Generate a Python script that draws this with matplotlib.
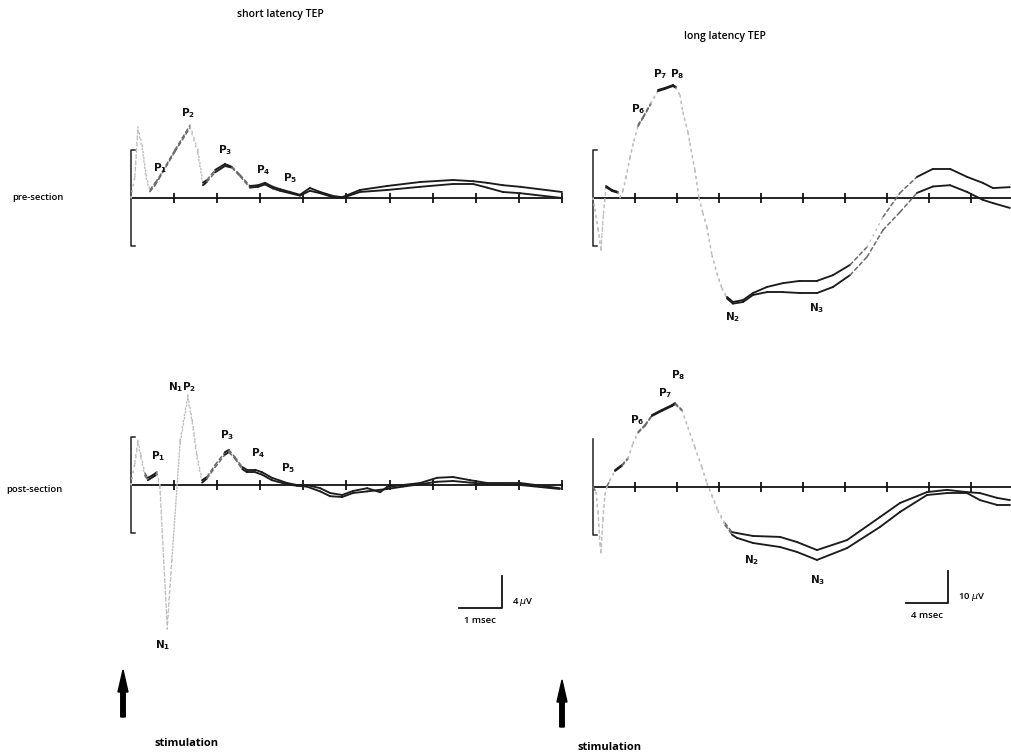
import numpy as np
import matplotlib
matplotlib.use("Agg")
import matplotlib.pyplot as plt
from matplotlib.collections import LineCollection
from matplotlib.patches import FancyArrow

plt.rcParams["font.family"] = ["Open Sans", "DejaVu Sans"]

# short latency TEP, 0-10 msec (values in microvolts)
short_pre_t = [0, 0.09, 0.16, 0.26, 0.35, 0.44, 0.56, 0.65, 1.02, 1.37, 1.55, 1.67, 1.76,
               1.95, 2.18, 2.34, 2.53, 2.76, 2.95, 3.11, 3.29, 3.46, 3.69, 3.92, 4.15, 4.39,
               4.69, 4.90, 5.31, 5.94, 6.71, 7.47, 7.94, 8.26, 8.63, 9.03, 10.0]
short_pre_a = [0, 2.9, 8.9, 6.6, 2.9, 1.0, 1.9, 2.6, 6.0, 9.1, 6.0, 1.9, 2.25,
               3.5, 4.25, 3.9, 2.9, 1.5, 1.6, 1.9, 1.4, 1.1, 0.75, 0.4, 1.25, 0.75,
               0.25, 0.1, 1.0, 1.5, 2.0, 2.25, 2.1, 1.9, 1.6, 1.4, 0.75]
short_pre_b = [0, 2.6, 8.4, 6.2, 2.5, 0.8, 1.6, 2.4, 5.8, 8.8, 5.6, 1.6, 2.0,
               3.2, 4.0, 3.8, 2.7, 1.3, 1.4, 1.7, 1.2, 0.9, 0.6, 0.3, 0.9, 0.6,
               0.1, 0.0, 0.75, 1.0, 1.4, 1.75, 1.75, 1.3, 0.75, 0.6, 0.0]

short_post_t = [0, 0.09, 0.16, 0.23, 0.32, 0.39, 0.51, 0.60, 0.67, 0.84, 0.95, 1.14, 1.32,
                1.42, 1.53, 1.65, 1.76, 1.95, 2.18, 2.27, 2.41, 2.58, 2.69, 2.88, 3.04,
                3.27, 3.62, 3.85, 4.08, 4.39, 4.62, 4.90, 5.15, 5.48, 5.78, 5.94, 6.31,
                6.71, 7.10, 7.47, 7.87, 8.26, 9.03, 9.95]
short_post_a = [0, 2.9, 5.6, 3.75, 1.5, 0.9, 1.25, 1.6, 0, -18, -9.4, 5.6, 11.25,
                8.1, 3.75, 0.6, 1.0, 2.5, 4.1, 4.4, 3.5, 2.25, 1.9, 1.9, 1.6,
                0.9, 0.25, 0, 0, -0.4, -1.0, -1.25, -0.75, -0.4, -0.9, -0.25, 0,
                0.25, 0.9, 1.0, 0.6, 0.25, 0.25, -0.4]
short_post_b = [0, 2.6, 5.2, 3.4, 1.2, 0.6, 1.0, 1.3, -0.3, -17.5, -9.0, 5.2, 10.8,
                7.8, 3.4, 0.3, 0.8, 2.2, 3.8, 4.1, 3.3, 2.0, 1.6, 1.6, 1.3,
                0.6, 0.1, -0.1, -0.2, -0.8, -1.4, -1.5, -1.0, -0.8, -0.6, -0.5, -0.2,
                0.1, 0.4, 0.5, 0.3, 0.1, 0.0, -0.5]

# long latency TEP, 0-40 msec
long_pre_t = [0, 0.19, 0.48, 0.76, 1.0, 1.24, 1.81, 2.38, 2.57, 2.86, 3.14, 3.52, 3.9,
              4.29, 4.76, 5.52, 6.19, 6.86, 7.62, 7.9, 8.29, 8.57, 9.05, 9.24, 9.71,
              10.1, 10.48, 10.86, 11.33, 11.81, 12.29, 12.76, 13.33, 14.29, 15.24,
              16.57, 18.1, 19.71, 21.33, 22.86, 24.48, 26.1, 27.62, 29.24, 30.86,
              32.38, 34.0, 35.62, 37.14, 38.1, 39.7]
long_pre_a = [0, -3.75, -10, -16.25, -5, 3.75, 2.5, 1.9, 0.3, 2.5, 6.6, 12.8, 18.1,
              22.8, 25.3, 29.7, 33.75, 34.4, 35.3, 34.7, 32.2, 26.9, 20.6, 17.2, 8.75,
              0, -4.7, -9.1, -17.8, -23.4, -28.1, -30.9, -32.5, -31.9, -29.7,
              -27.8, -26.6, -25.9, -25.9, -24.1, -20.9, -15.3, -5.9, 1.6, 6.6,
              9.1, 9.1, 6.6, 4.7, 3.1, 3.4]
long_pre_b = [0, -3.5, -9.5, -15.5, -4.5, 3.4, 2.2, 1.6, 0, 2.2, 6.2, 12.4, 17.8,
              22.4, 25.0, 29.4, 33.4, 34.1, 35.0, 34.4, 31.9, 26.5, 20.2, 16.8, 8.4,
              -0.3, -5.0, -9.4, -18.1, -23.8, -28.5, -31.4, -33.0, -32.5, -30.3,
              -29.4, -29.4, -29.7, -29.7, -27.8, -24.1, -18.4, -10.0, -4.4, 1.6,
              3.6, 4.0, 1.9, -0.6, -1.6, -3.1]

long_post_t = [0, 0.29, 0.48, 0.67, 0.76, 0.95, 1.14, 1.33, 1.62, 2.1, 2.76, 3.33, 3.81,
               4.29, 4.95, 5.62, 6.57, 7.52, 7.81, 8.48, 9.05, 9.71, 10.38, 10.86, 11.33,
               11.9, 12.57, 13.24, 13.71, 15.24, 17.81, 19.43, 21.33, 24.19, 27.33,
               29.24, 31.81, 33.71, 35.62, 36.86, 38.48, 39.71]
long_post_a = [0, -1.9, -8.1, -18.1, -20.6, -10.3, -2.5, 0, 2.2, 5.3, 6.9, 9.1, 13.75,
               17.2, 19.4, 22.5, 24.1, 25.6, 26.25, 24.1, 18.75, 12.5, 6.25, 1.25, -2.5,
               -7.2, -11.25, -14.1, -14.4, -15.3, -15.6, -17.2, -19.7, -16.6, -9.4,
               -5.0, -1.6, -0.9, -1.6, -1.9, -3.4, -4.1]
long_post_b = [0, -1.6, -7.6, -17.5, -20.0, -9.8, -2.2, 0.3, 2.0, 5.0, 6.6, 8.8, 13.4,
               16.9, 19.1, 22.2, 23.8, 25.3, 25.9, 23.8, 18.4, 12.2, 5.9, 0.9, -2.9,
               -7.6, -11.9, -14.9, -15.9, -17.5, -18.75, -20.3, -22.8, -19.1, -12.5,
               -7.8, -2.5, -1.9, -1.9, -4.1, -5.6, -5.6]

short_ticks = list(range(1, 11))          # 1 msec steps
long_ticks = list(range(4, 41, 4))        # 4 msec steps
short_bracket = 6                         # microvolts above/below baseline
long_bracket = 15

W, H = 1012, 755
fig = plt.figure(figsize=(W / 100, H / 100), dpi=100)


def make_panel(x0, y0, px_ms, px_uv, box):
    # axes whose msec / uV origin lands on pixel (x0, y0)
    left, top, right, bottom = box
    ax = fig.add_axes([left / W, 1 - bottom / H, (right - left) / W, (bottom - top) / H])
    ax.set_xlim((left - x0) / px_ms, (right - x0) / px_ms)
    ax.set_ylim((y0 - bottom) / px_uv, (y0 - top) / px_uv)
    ax.axis("off")
    return ax


def draw_trace(ax, t, v):
    # fast sweeps of the beam come out faint and dotted, slow ones dark
    t = np.asarray(t, float)
    v = np.asarray(v, float)
    xy = np.column_stack([t, v])
    pts = ax.transData.transform(xy)
    d = np.diff(pts, axis=0)
    slope = np.abs(d[:, 1]) / np.maximum(np.abs(d[:, 0]), 1e-6)
    segs = np.stack([xy[:-1], xy[1:]], axis=1)
    colors, styles, widths = [], [], []
    for s in slope:
        if s < 0.9:
            colors.append("#1c1c1c"); styles.append("solid"); widths.append(1.35)
        elif s < 1.8:
            colors.append("#6a6a6a"); styles.append((0, (2.5, 2))); widths.append(1.1)
        else:
            colors.append("#bdbdbd"); styles.append((0, (1, 3.5))); widths.append(1.0)
    lc = LineCollection(segs, colors=colors, linestyles=styles, linewidths=widths,
                        capstyle="round")
    ax.add_collection(lc)


def draw_axis(ax, end, ticks, bracket, cap, top_cap=True):
    ax.plot([0, end], [0, 0], color="#111111", lw=1.3)
    ax.plot(ticks, [0] * len(ticks), ls="none", marker="|", ms=7, mew=1.3, color="#111111")
    ax.plot([cap if top_cap else 0, 0, 0, cap], [bracket, bracket, -bracket, -bracket],
            color="#222222", lw=1.1)


def peak_labels(ax, labels):
    for text, t, v in labels:
        ax.text(t, v, text, fontsize=7.5, ha="center", va="center", color="#111111")


def scale_bar(ax, t, v, dt, dv, t_label, v_label):
    ax.plot([t - dt, t, t], [v, v, v + dv], color="#111111", lw=1.3)
    ax.text(t + dt * 0.25, v + dv * 0.2, v_label, fontsize=6.8, ha="left", va="center",
            fontweight="semibold")
    ax.text(t - dt * 0.5, v - dv * 0.38, t_label, fontsize=6.8, ha="center", va="center",
            fontweight="semibold")


ax_sp = make_panel(131, 198, 43.1, 8.0, (95, 60, 585, 280))
ax_sq = make_panel(131, 485, 43.1, 8.0, (95, 360, 585, 665))
ax_lp = make_panel(593, 198, 10.5, 3.2, (580, 60, 1012, 330))
ax_lq = make_panel(593, 487, 10.5, 3.2, (580, 360, 1012, 640))

for ax in (ax_sp, ax_sq):
    draw_axis(ax, 10, short_ticks, short_bracket, 0.1)
draw_axis(ax_lp, 40, long_ticks, long_bracket, 0.4)
draw_axis(ax_lq, 40, long_ticks, long_bracket, 0.4, top_cap=False)

draw_trace(ax_sp, short_pre_t, short_pre_a)
draw_trace(ax_sp, short_pre_t, short_pre_b)
draw_trace(ax_sq, short_post_t, short_post_a)
draw_trace(ax_sq, short_post_t, short_post_b)
draw_trace(ax_lp, long_pre_t, long_pre_a)
draw_trace(ax_lp, long_pre_t, long_pre_b)
draw_trace(ax_lq, long_post_t, long_post_a)
draw_trace(ax_lq, long_post_t, long_post_b)

peak_labels(ax_sp, [(r"$\mathbf{P_1}$", 0.67, 3.75), (r"$\mathbf{P_2}$", 1.32, 10.6),
                    (r"$\mathbf{P_3}$", 2.18, 6.0), (r"$\mathbf{P_4}$", 3.06, 3.5),
                    (r"$\mathbf{P_5}$", 3.69, 2.5)])
peak_labels(ax_sq, [(r"$\mathbf{N_1P_2}$", 1.18, 12.25), (r"$\mathbf{P_1}$", 0.63, 3.6),
                    (r"$\mathbf{P_3}$", 2.23, 6.25), (r"$\mathbf{P_4}$", 2.95, 4.0),
                    (r"$\mathbf{P_5}$", 3.64, 2.1), (r"$\mathbf{N_1}$", 0.74, -20)])
peak_labels(ax_lp, [(r"$\mathbf{P_6}$", 4.29, 27.8), (r"$\mathbf{P_7}$", 6.38, 38.75),
                    (r"$\mathbf{P_8}$", 8.0, 38.75), (r"$\mathbf{N_2}$", 13.33, -37.2),
                    (r"$\mathbf{N_3}$", 21.33, -34.4)])
peak_labels(ax_lq, [(r"$\mathbf{P_6}$", 4.19, 20.9), (r"$\mathbf{P_7}$", 6.86, 29.4),
                    (r"$\mathbf{P_8}$", 8.1, 35.0), (r"$\mathbf{N_2}$", 15.14, -22.8),
                    (r"$\mathbf{N_3}$", 21.43, -29.1)])

scale_bar(ax_sq, 8.6, -15.4, 1, 4, "1 msec", r"4 $\mu$V")
scale_bar(ax_lq, 33.8, -36.25, 4, 10, "4 msec", r"10 $\mu$V")

# headings, row names and stimulus markers
fig.text(280 / W, 1 - 15 / H, "short latency TEP", fontsize=7.5, ha="center", va="center",
         fontweight="semibold")
fig.text(725 / W, 1 - 36 / H, "long latency TEP", fontsize=7.5, ha="center", va="center",
         fontweight="semibold")
fig.text(38 / W, 1 - 197 / H, "pre-section", fontsize=6.8, ha="center", va="center",
         fontweight="semibold")
fig.text(34 / W, 1 - 489 / H, "post-section", fontsize=6.8, ha="center", va="center",
         fontweight="semibold")
fig.text(187 / W, 1 - 744 / H, "stimulation", fontsize=8, ha="center", va="center",
         fontweight="bold")
fig.text(610 / W, 1 - 748 / H, "stimulation", fontsize=8, ha="center", va="center",
         fontweight="bold")

for x, y_tail, y_tip in ((123, 717, 670), (562, 727, 680)):
    fig.add_artist(FancyArrow(x / 100, (H - y_tail) / 100, 0, (y_tail - y_tip) / 100,
                              width=0.045, head_width=0.1, head_length=0.22,
                              length_includes_head=True, color="black",
                              transform=fig.dpi_scale_trans))

fig.savefig("out.png", dpi=100, facecolor="white")
